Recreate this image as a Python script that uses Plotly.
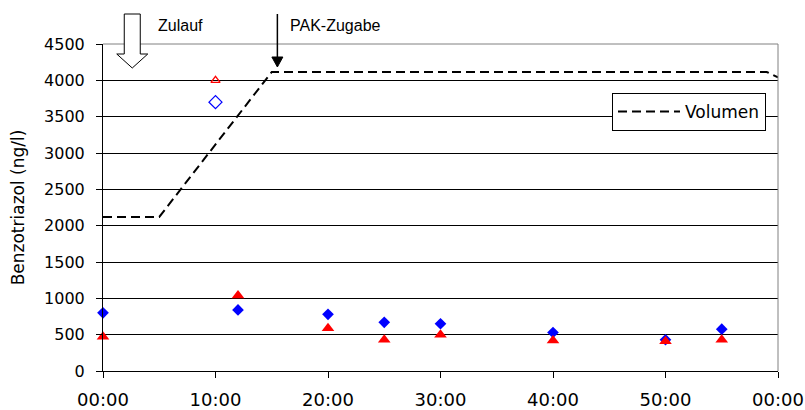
import plotly.graph_objects as go

# Sampling times in minutes and measured Benzotriazol concentrations (ng/l)
t_samples = [0, 12, 20, 25, 30, 40, 50, 55]
benzo_blue = [800, 840, 780, 670, 650, 530, 430, 575]
benzo_red = [470, 1040, 590, 430, 500, 420, 410, 430]

# Inflow samples (open markers)
t_inflow = [10]
inflow_blue = [3700]
inflow_red = [4000]

# Reactor volume curve
t_volume = [0, 5, 15, 59, 60]
volume = [2120, 2120, 4115, 4115, 4040]

# Axis ticks
x_tickvals = [0, 10, 20, 30, 40, 50, 60]
x_ticktext = ["00:00", "10:00", "20:00", "30:00", "40:00", "50:00", "00:00"]
y_tickvals = list(range(0, 4501, 500))

# Event times (minutes)
t_zulauf = 2.6
t_pak = 15.5

X_MAX = 60
PLOT_W = 675
PLOT_H = 327
dx = 1 / PLOT_W
dy = 1 / PLOT_H

AXIS_FONT = "DejaVu Sans"
NOTE_FONT = "Liberation Sans, Arial"

fig = go.Figure()

fig.add_trace(go.Scatter(
    x=t_volume, y=volume, mode="lines", name="Volumen",
    line=dict(color="black", width=2, dash="9px,5px"),
))
fig.add_trace(go.Scatter(
    x=t_samples, y=benzo_blue, mode="markers", showlegend=False, cliponaxis=False,
    marker=dict(symbol="diamond", size=9, color="#0000ff", line=dict(width=0)),
))
fig.add_trace(go.Scatter(
    x=t_samples, y=benzo_red, mode="markers", showlegend=False, cliponaxis=False,
    marker=dict(symbol="triangle-up", size=11, color="#ff0000", line=dict(width=0)),
))
fig.add_trace(go.Scatter(
    x=t_inflow, y=inflow_blue, mode="markers", showlegend=False, cliponaxis=False,
    marker=dict(symbol="diamond-open", size=10, color="#0000ff", line=dict(width=1.3)),
))
fig.add_trace(go.Scatter(
    x=t_inflow, y=inflow_red, mode="markers", showlegend=False, cliponaxis=False,
    marker=dict(symbol="triangle-up-open", size=8, color="#ff0000", line=dict(width=1.3)),
))

# Block arrow marking the inflow
cx = t_zulauf / X_MAX
top = 1 + 30 * dy
neck = 1 - 10 * dy
tip = 1 - 24 * dy
block_path = (
    f"M {cx - 8 * dx},{top} L {cx + 8 * dx},{top} L {cx + 8 * dx},{neck} "
    f"L {cx + 15.5 * dx},{neck} L {cx},{tip} L {cx - 15.5 * dx},{neck} "
    f"L {cx - 8 * dx},{neck} Z"
)

# Thin arrow marking the PAK dosing
px = t_pak / X_MAX
head_base = 1 - 13 * dy
head_tip = 1 - 23 * dy
pak_head = (
    f"M {px - 5.5 * dx},{head_base} L {px + 5.5 * dx},{head_base} "
    f"L {px},{head_tip} Z"
)

shapes = [
    # plot frame (top and right)
    dict(type="path", xref="paper", yref="paper", path="M 0,1 L 1,1 L 1,0",
         line=dict(color="#808080", width=1), layer="above"),
    dict(type="path", xref="paper", yref="paper", path=block_path,
         fillcolor="white", line=dict(color="black", width=1)),
    dict(type="line", xref="paper", yref="paper", x0=px, x1=px, y0=top, y1=head_base,
         line=dict(color="black", width=1.5)),
    dict(type="path", xref="paper", yref="paper", path=pak_head,
         fillcolor="black", line=dict(color="black", width=1)),
]

annotations = [
    dict(text="Zulauf", xref="paper", yref="paper", x=(t_zulauf / X_MAX) + 24 * dx,
         y=1 + 18 * dy, xanchor="left", yanchor="middle", showarrow=False,
         font=dict(family=NOTE_FONT, size=16, color="black")),
    dict(text="PAK-Zugabe", xref="paper", yref="paper", x=px + 11 * dx,
         y=1 + 18 * dy, xanchor="left", yanchor="middle", showarrow=False,
         font=dict(family=NOTE_FONT, size=16, color="black")),
]

fig.update_layout(
    width=805, height=410,
    margin=dict(l=103, r=27, t=44, b=39, autoexpand=False),
    paper_bgcolor="white", plot_bgcolor="white",
    shapes=shapes, annotations=annotations,
    showlegend=True,
    legend=dict(
        x=(766 - 103) / PLOT_W, y=(371 - 93) / PLOT_H, xanchor="right", yanchor="top",
        bgcolor="white", bordercolor="black", borderwidth=1, itemwidth=62,
        font=dict(family=AXIS_FONT, size=17, color="black"),
    ),
    xaxis=dict(
        range=[0, X_MAX], tickvals=x_tickvals, ticktext=x_ticktext,
        showgrid=False, zeroline=False, automargin=False,
        showline=True, linecolor="black", linewidth=1,
        ticks="outside", ticklen=6, tickcolor="black",
        tickfont=dict(family=AXIS_FONT, size=18, color="black"),
        ticklabelstandoff=6,
    ),
    yaxis=dict(
        range=[0, 4500], tickvals=y_tickvals,
        showgrid=True, gridcolor="black", gridwidth=1, zeroline=False, automargin=False,
        showline=True, linecolor="black", linewidth=1,
        ticks="outside", ticklen=6, tickcolor="black",
        tickfont=dict(family=AXIS_FONT, size=16, color="black"),
        ticklabelstandoff=8,
        title=dict(text="Benzotriazol (ng/l)",
                   font=dict(family=AXIS_FONT, size=17, color="black")),
    ),
)

fig.write_html("out.html")
